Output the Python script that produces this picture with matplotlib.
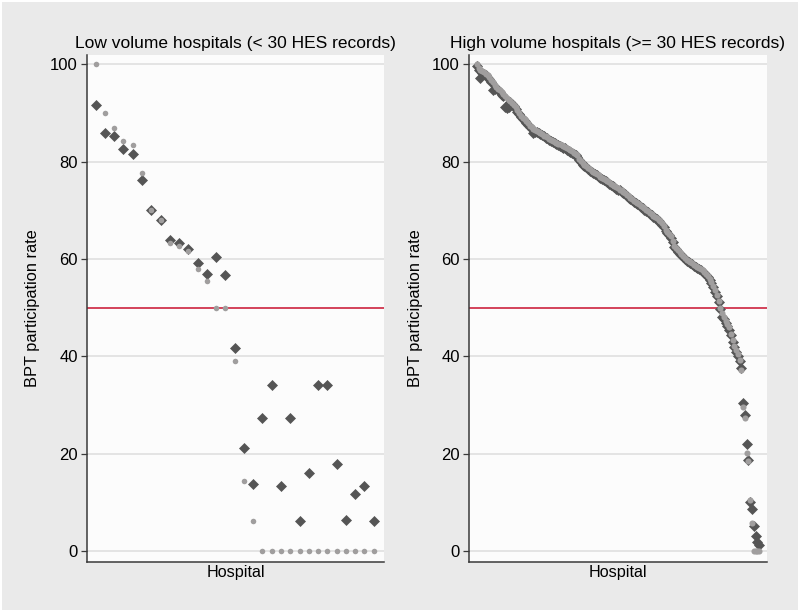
import matplotlib
matplotlib.use("Agg")
import matplotlib.pyplot as plt
from matplotlib.patches import Rectangle

plt.rcParams['font.family'] = ['Liberation Sans', 'DejaVu Sans']

# ---------------- data ----------------
low_titles = "Low volume hospitals (< 30 HES records)"
high_titles = "High volume hospitals (>= 30 HES records)"
y_label = "BPT participation rate"
x_label = "Hospital"
y_ticks = [0, 20, 40, 60, 80, 100]
threshold = 50

# Low volume: dark diamonds / light circles
low_dark = [91.6, 85.9, 85.2, 82.7, 81.7, 76.2, 70.0, 68.1, 63.9, 63.4, 62.1, 59.1, 56.9,
            60.4, 56.7, 41.8, 21.1, 13.7, 27.4, 34.2, 13.4, 27.4, 6.2, 16.0, 34.2, 34.2,
            17.8, 6.4, 11.7, 13.4, 6.2]
low_light = [100.0, 90.0, 87.0, 84.3, 83.4, 77.7, 70.0, 68.1, 63.3, 62.6, 61.6, 58.0, 55.6,
             50.0, 50.0, 39.0, 14.4, 6.2, 0, 0, 0, 0, 0, 0, 0, 0, 0, 0, 0, 0, 0]

# High volume
high_light = [100.0, 99.3, 98.9, 98.7, 98.4, 98.1, 97.8, 97.4, 96.8, 96.3,
              95.8, 95.4, 95.0, 94.7, 94.3, 93.9, 93.5, 93.2, 92.8, 92.5,
              92.1, 91.7, 91.2, 90.6, 90.0, 89.5, 89.1, 88.7, 88.3, 87.9,
              87.4, 87.1, 86.8, 86.6, 86.4, 86.2, 86.0, 85.7, 85.4, 85.2,
              85.0, 84.7, 84.5, 84.3, 84.1, 83.9, 83.7, 83.6, 83.4, 83.2,
              83.0, 82.8, 82.6, 82.4, 82.2, 81.9, 81.6, 81.3, 80.6, 80.1,
              79.7, 79.4, 79.1, 78.8, 78.5, 78.2, 77.9, 77.7, 77.4, 77.2,
              76.9, 76.7, 76.5, 76.2, 76.0, 75.8, 75.5, 75.3, 75.0, 74.8,
              74.6, 74.3, 74.1, 73.8, 73.5, 73.2, 72.9, 72.6, 72.3, 72.0,
              71.8, 71.6, 71.3, 71.0, 70.7, 70.4, 70.1, 69.8, 69.5, 69.2,
              68.9, 68.7, 68.4, 68.1, 67.8, 67.4, 66.8, 66.0, 65.6, 65.2,
              64.7, 63.8, 62.6, 62.2, 61.8, 61.4, 61.0, 60.6, 60.3, 59.9,
              59.6, 59.3, 59.1, 58.8, 58.6, 58.4, 58.2, 58.0, 57.7, 57.4,
              57.0, 56.6, 56.0, 55.3, 54.5, 53.6, 52.7, 51.4, 50.0, 49.0,
              48.0, 47.3, 46.6, 46.0, 44.7, 43.3, 42.2, 41.3, 40.5, 39.3,
              37.2, 29.7, 27.3, 20.1, 18.6, 10.5, 5.7, 0, 0, 0, 0]
high_dark = [99.6, 98.8, 97.2, 98.3, 98.0, 97.8, 97.3, 97.0, 96.4, 94.8,
             94.9, 95.2, 94.8, 94.3, 93.8, 93.6, 91.2, 91.0, 91.3, 92.2,
             91.9, 91.4, 90.9, 90.3, 89.8, 89.2, 88.8, 88.4, 88.0, 87.6,
             87.1, 86.7, 85.9, 86.2, 86.1, 85.9, 85.7, 85.5, 85.2, 84.9,
             84.8, 84.4, 84.3, 84.0, 83.8, 83.6, 83.5, 83.3, 83.1, 82.9,
             82.8, 82.5, 82.3, 82.1, 81.9, 81.6, 81.3, 81.0, 80.4, 79.9,
             79.4, 79.2, 78.9, 78.6, 78.2, 78.0, 77.7, 77.4, 77.2, 76.9,
             76.7, 76.4, 76.2, 76.0, 75.8, 75.5, 75.3, 75.0, 74.8, 74.5,
             74.3, 74.1, 73.8, 73.5, 73.3, 73.0, 72.6, 72.3, 72.1, 71.8,
             71.5, 71.3, 71.1, 70.8, 70.5, 70.1, 69.9, 69.6, 69.2, 69.0,
             68.7, 68.4, 68.2, 67.9, 67.5, 67.1, 66.5, 65.8, 65.3, 64.9,
             64.4, 63.5, 62.4, 62.0, 61.5, 61.1, 60.8, 60.4, 60.0, 59.7,
             59.4, 59.1, 58.9, 58.6, 58.3, 58.1, 57.9, 57.7, 57.4, 57.1,
             56.7, 56.3, 55.7, 55.0, 54.2, 53.3, 52.4, 51.1, 49.7, 48.2,
             47.6, 46.8, 46.3, 45.5, 44.3, 43.0, 41.9, 41.0, 40.1, 39.0,
             37.6, 30.5, 28.0, 22.0, 18.8, 10.0, 8.6, 5.1, 3.1, 1.9, 1.2]

# ---------------- style ----------------
DARK = '#555555'
LIGHT = '#a09e9e'
GRID = '#e2e2e2'
RED = '#c8102e'
BG = '#eaeaea'
PLOT_BG = '#fcfcfc'

fig = plt.figure(figsize=(8.0, 6.14), dpi=100, facecolor='white')
fig.patches.append(Rectangle((2/800, 4/614), 796/800, 608/614, transform=fig.transFigure,
                             facecolor=BG, edgecolor='none', zorder=-10))

ax1 = fig.add_axes([87/800, 1-562/614, 297/800, 507/614])
ax2 = fig.add_axes([469/800, 1-562/614, 298/800, 507/614])

def style(ax, title):
    ax.set_facecolor(PLOT_BG)
    ax.set_ylim(-2.26, 101.95)
    ax.set_yticks(y_ticks)
    ax.set_xticks([])
    for s in ['top', 'right']:
        ax.spines[s].set_visible(False)
    for s in ['left', 'bottom']:
        ax.spines[s].set_color('#3a3a3a')
        ax.spines[s].set_linewidth(1.1)
    ax.tick_params(axis='y', direction='out', length=4.5, width=0.9, color='#3a3a3a',
                   labelsize=12, pad=2)
    for t in y_ticks:
        ax.axhline(t, color=GRID, lw=1.3, zorder=0)
    ax.axhline(threshold, color=RED, lw=1.1, zorder=1)
    ax.set_title(title, fontsize=12.5, pad=5)
    ax.set_ylabel(y_label, fontsize=11.8, labelpad=7)
    ax.set_xlabel(x_label, fontsize=11.6, labelpad=2)

# Left panel
xl = list(range(1, len(low_dark) + 1))
ax1.plot(xl, low_dark, linestyle='none', marker='D', ms=4.8, color=DARK, mew=0.5, mec=DARK, zorder=3)
ax1.plot(xl, low_light, linestyle='none', marker='o', ms=4.0, color=LIGHT, mew=0, zorder=4)
ax1.set_xlim(0.06, 32.12)
style(ax1, low_titles)

# Right panel
xh = list(range(len(high_light)))
ax2.plot(xh, high_dark, linestyle='none', marker='D', ms=4.6, color=DARK, mew=0.5, mec=DARK, zorder=3)
ax2.plot(xh, high_light, linestyle='none', marker='o', ms=4.4, color=LIGHT, mew=0, zorder=4)
ax2.set_xlim(-4.5, 164.5)
style(ax2, high_titles)

fig.savefig('out.png', dpi=100, facecolor=fig.get_facecolor())
